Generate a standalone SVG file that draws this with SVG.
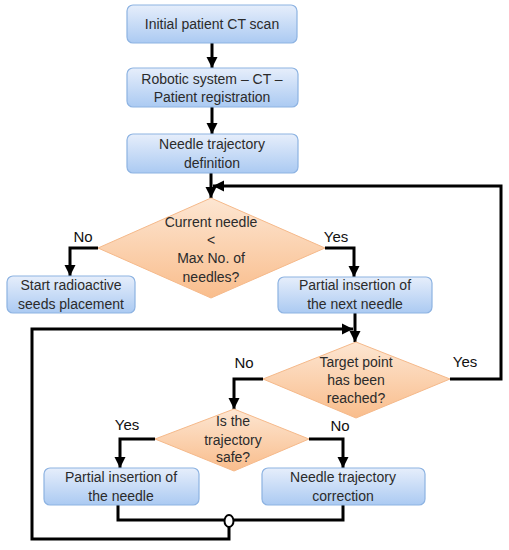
<svg xmlns="http://www.w3.org/2000/svg" width="509" height="550" viewBox="0 0 509 550">
<defs>
<linearGradient id="gb" x1="0" y1="0" x2="0" y2="1">
<stop offset="0" stop-color="#e6eefb"/>
<stop offset="1" stop-color="#abcaf2"/>
</linearGradient>
<linearGradient id="go" x1="0" y1="0" x2="0" y2="1">
<stop offset="0" stop-color="#fde6d2"/>
<stop offset="1" stop-color="#f9bd8c"/>
</linearGradient>
<marker id="ah" markerUnits="userSpaceOnUse" markerWidth="12" markerHeight="12" viewBox="0 0 12 12" refX="11" refY="6" orient="auto">
<path d="M0 0.5 L11 6 L0 11.5 Z" fill="#000"/>
</marker>
</defs>
<style>
.box{fill:url(#gb);stroke:#8db3e2;stroke-width:1.2}
.dia{fill:url(#go);stroke:#f5b98a;stroke-width:1}
.t{font-family:"Liberation Sans",Arial,sans-serif;font-size:14px;fill:#2b2b2b;text-anchor:middle}
.l{font-family:"Liberation Sans",Arial,sans-serif;font-size:15px;fill:#111;text-anchor:middle}
.c{fill:none;stroke:#000;stroke-width:3}
.a{marker-end:url(#ah)}
</style>
<rect width="509" height="550" fill="#fff"/>
<g id="connectors">
<path class="c a" d="M212 43 V68"/>
<path class="c a" d="M212 107 V134"/>
<path class="c a" d="M211 173 V198"/>
<path class="c a" d="M450 379 H501 V186 H213"/>
<path class="c a" d="M98 248 H70 V276"/>
<path class="c a" d="M325 248 H354 V277"/>
<path class="c a" d="M355 313 V342"/>
<path class="c a" d="M263 379 H234 V409"/>
<path class="c a" d="M155 439 H120 V468"/>
<path class="c a" d="M309 439 H343 V468"/>
<path class="c" d="M118 505 V520 H224.5"/>
<path class="c" d="M233.5 520 H343 V505"/>
<path class="c a" d="M229 527 V539 H32 V329 H353"/>
<ellipse cx="229" cy="521" rx="4.5" ry="6" fill="#fff" stroke="#000" stroke-width="2"/>
</g>
<g id="n1"><rect class="box" x="127" y="5" width="170" height="38" rx="6"/><text class="t" x="212" y="29">Initial patient CT scan</text></g>
<g id="n2"><rect class="box" x="127" y="68" width="171" height="39" rx="6"/><text class="t" x="212" y="84">Robotic system – CT –</text><text class="t" x="212" y="102">Patient registration</text></g>
<g id="n3"><rect class="box" x="127" y="134" width="171" height="39" rx="6"/><text class="t" x="212" y="149">Needle trajectory</text><text class="t" x="212" y="168">definition</text></g>
<g id="d1"><polygon class="dia" points="211,198 325,248 211,298 98,248"/><text class="t" x="211" y="227">Current needle</text><text class="t" x="211" y="245">&lt;</text><text class="t" x="211" y="263">Max No. of</text><text class="t" x="211" y="282">needles?</text></g>
<g id="n4"><rect class="box" x="7" y="276" width="128" height="37" rx="6"/><text class="t" x="71" y="290">Start radioactive</text><text class="t" x="71" y="309">seeds placement</text></g>
<g id="n5"><rect class="box" x="278" y="277" width="154" height="36" rx="6"/><text class="t" x="355" y="290">Partial insertion of</text><text class="t" x="355" y="309">the next needle</text></g>
<g id="d2"><polygon class="dia" points="356,342 450,379 356,418 263,379"/><text class="t" x="356" y="367">Target point</text><text class="t" x="356" y="385">has been</text><text class="t" x="356" y="403">reached?</text></g>
<g id="d3"><polygon class="dia" points="234,409 309,439 234,471 155,439"/><text class="t" x="233" y="426">Is the</text><text class="t" x="233" y="445">trajectory</text><text class="t" x="233" y="462">safe?</text></g>
<g id="n6"><rect class="box" x="44" y="468" width="155" height="37" rx="6"/><text class="t" x="121" y="482">Partial insertion of</text><text class="t" x="121" y="501">the needle</text></g>
<g id="n7"><rect class="box" x="262" y="468" width="163" height="37" rx="6"/><text class="t" x="343" y="482">Needle trajectory</text><text class="t" x="343" y="501">correction</text></g>
<g id="labels">
<text class="l" x="83" y="242">No</text>
<text class="l" x="336" y="242">Yes</text>
<text class="l" x="244" y="368">No</text>
<text class="l" x="465" y="367">Yes</text>
<text class="l" x="127" y="430">Yes</text>
<text class="l" x="340" y="431">No</text>
</g>
</svg>
